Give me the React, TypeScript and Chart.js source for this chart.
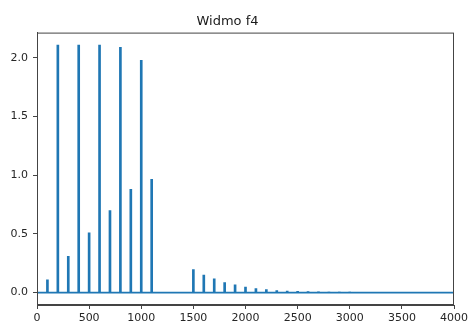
import React, { useEffect, useRef } from "react";
import { Chart, registerables } from "chart.js";

Chart.register(...registerables);

const TITLE = "Widmo f4";
const freqs = [100, 200, 300, 400, 500, 600, 700, 800, 900, 1000, 1100, 1200, 1300, 1400, 1500, 1600, 1700, 1800, 1900, 2000, 2100, 2200, 2300, 2400, 2500, 2600, 2700, 2800, 2900, 3000];
const amps = [0.11, 2.11, 0.31, 2.11, 0.51, 2.11, 0.70, 2.09, 0.88, 1.98, 0.965, 0, 0, 0, 0.197, 0.15, 0.117, 0.085, 0.066, 0.047, 0.034, 0.025, 0.018, 0.013, 0.010, 0.008, 0.006, 0.005, 0.004, 0.003];
const baselineX = [0, 4000];
const baselineY = [0, 0];
const xTicks = [0, 500, 1000, 1500, 2000, 2500, 3000, 3500, 4000];
const yTicks = [0, 0.5, 1.0, 1.5, 2.0];

const frame = {
  id: "frame",
  afterDraw(chart: any) {
    const { ctx, chartArea: a } = chart;
    ctx.save();
    ctx.strokeStyle = "#444";
    ctx.lineWidth = 1;
    ctx.strokeRect(a.left + 0.5, a.top + 0.5, a.right - a.left - 1, a.bottom - a.top - 1);
    ctx.restore();
  },
};

export default function App() {
  const ref = useRef<HTMLCanvasElement>(null);
  useEffect(() => {
    document.body.style.margin = "0";
    const C0 = "#1f77b4";
    const chart = new Chart(ref.current!, {
      type: "bar",
      data: {
        datasets: [
          {
            type: "bar",
            data: freqs.map((f, i) => ({ x: f, y: amps[i] })),
            backgroundColor: C0,
            borderWidth: 0,
            barThickness: 2,
            order: 2,
          } as any,
          {
            type: "line",
            data: baselineX.map((x, i) => ({ x, y: baselineY[i] })),
            borderColor: C0,
            borderWidth: 1.8,
            pointRadius: 0,
            order: 1,
          } as any,
        ],
      },
      options: {
        responsive: false,
        animation: false,
        layout: { padding: { left: 0, right: 16, top: 0, bottom: 0 } },
        plugins: {
          legend: { display: false },
          tooltip: { enabled: false },
          title: {
            display: true,
            text: TITLE,
            color: "#1a1a1a",
            font: { family: "DejaVu Sans", size: 13, weight: "normal" },
            padding: { top: 14, bottom: 3 },
          },
        },
        scales: {
          x: {
            type: "linear",
            min: 0,
            max: 4000,
            offset: false,
            afterBuildTicks: (s: any) => {
              s.ticks = xTicks.map((v) => ({ value: v }));
            },
            afterFit: (s: any) => {
              s.height = 20;
            },
            ticks: {
              color: "#262626",
              font: { family: "DejaVu Sans", size: 11 },
              padding: 3,
              maxRotation: 0,
              callback: (v: any) => String(v),
            },
            grid: { display: true, offset: false, drawOnChartArea: false, drawTicks: true, tickLength: 4, color: "#444" },
            border: { display: true, color: "#444" },
          },
          y: {
            type: "linear",
            min: -0.1055,
            max: 2.2155,
            afterBuildTicks: (s: any) => {
              s.ticks = yTicks.map((v) => ({ value: v }));
            },
            afterFit: (s: any) => {
              s.width = 37;
            },
            ticks: {
              color: "#262626",
              font: { family: "DejaVu Sans", size: 11 },
              padding: 5,
              callback: (v: any) => Number(v).toFixed(1),
            },
            grid: { display: true, drawOnChartArea: false, drawTicks: true, tickLength: 4, color: "#444" },
            border: { display: true, color: "#444" },
          },
        },
      },
      plugins: [frame],
    });
    return () => chart.destroy();
  }, []);
  return (
    <div style={{ width: 471, height: 325, background: "#fff" }}>
      <canvas ref={ref} width={471} height={325} />
    </div>
  );
}
